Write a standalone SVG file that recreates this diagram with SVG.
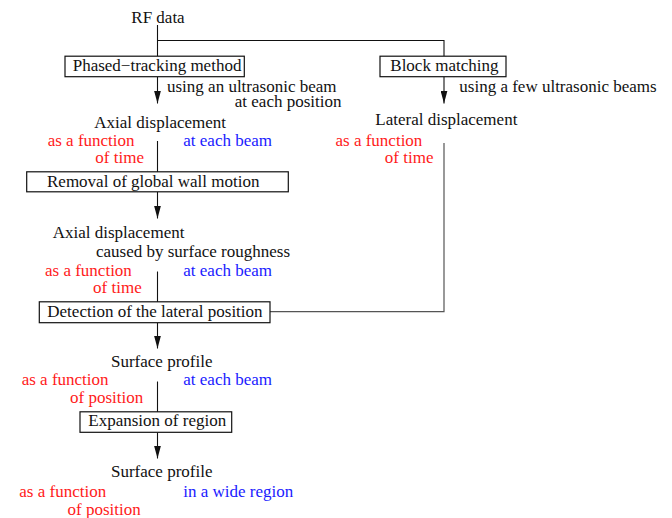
<svg xmlns="http://www.w3.org/2000/svg" width="672" height="518" viewBox="0 0 672 518">
<style>
text{font-family:"Liberation Serif","Times New Roman",serif;font-size:17px;fill:#111}
.r{fill:#ff1a1a}
.b{fill:#1a1aff}
.box{fill:#fff;stroke:#111;stroke-width:1.2}
.ln{fill:none;stroke:#111;stroke-width:1.1}
.gr{fill:none;stroke:#555;stroke-width:1.2}
.m{text-anchor:middle}
.e{text-anchor:end}
</style>
<defs>
<marker id="ah" markerUnits="userSpaceOnUse" markerWidth="13" markerHeight="7" refX="13" refY="3.5" orient="auto" viewBox="0 0 13 7">
<path d="M0,0 L13,3.5 L0,7 z" fill="#111"/>
</marker>
</defs>
<g id="connectors">
<path class="ln" d="M157.5 25 V56"/>
<path class="ln" d="M157.5 40.5 H444 V56"/>
<path class="ln" d="M157.5 77 V103.5" marker-end="url(#ah)"/>
<path class="ln" d="M157.5 141 V172"/>
<path class="ln" d="M157.5 192 V218.5" marker-end="url(#ah)"/>
<path class="ln" d="M157.5 271.5 V302"/>
<path class="ln" d="M157.5 323 V348.5" marker-end="url(#ah)"/>
<path class="ln" d="M157.5 381.5 V412"/>
<path class="ln" d="M157.5 432.5 V458.5" marker-end="url(#ah)"/>
<path class="ln" d="M444 77 V103.5" marker-end="url(#ah)"/>
<path class="gr" d="M444 143 V311.7 H270"/>
</g>
<g id="rf-data"><text class="m" x="158" y="22.5">RF data</text></g>
<g id="phased-tracking">
<rect class="box" x="65" y="56.2" width="179.3" height="20.5"/>
<text x="72.7" y="71">Phased−tracking method</text>
</g>
<g id="phased-label">
<text x="167" y="91.7">using an ultrasonic beam</text>
<text class="e" x="341.5" y="106.5">at each position</text>
</g>
<g id="block-matching">
<rect class="box" x="380" y="56.2" width="126" height="20.5"/>
<text x="390.3" y="71">Block matching</text>
</g>
<g id="block-label"><text x="459.3" y="91.7">using a few ultrasonic beams</text></g>
<g id="axial-displacement">
<text x="94.3" y="128">Axial displacement</text>
<text class="r" x="47.7" y="146">as a function</text>
<text class="r e" x="144" y="162.7">of time</text>
<text class="b" x="183.3" y="146">at each beam</text>
</g>
<g id="lateral-displacement">
<text x="375.3" y="124.5">Lateral displacement</text>
<text class="r" x="335.5" y="146">as a function</text>
<text class="r e" x="433.5" y="162.7">of time</text>
</g>
<g id="removal">
<rect class="box" x="26.7" y="171.8" width="261.6" height="20"/>
<text x="47" y="186.7">Removal of global wall motion</text>
</g>
<g id="axial-roughness">
<text x="52.7" y="237.7">Axial displacement</text>
<text x="96" y="257.3">caused by surface roughness</text>
<text class="r" x="45" y="276">as a function</text>
<text class="r e" x="141.7" y="293.3">of time</text>
<text class="b" x="183.3" y="276">at each beam</text>
</g>
<g id="detection">
<rect class="box" x="39.3" y="301.8" width="230.7" height="20.9"/>
<text x="47.3" y="316.7">Detection of the lateral position</text>
</g>
<g id="surface-profile-1">
<text x="111" y="366.7">Surface profile</text>
<text class="r" x="21.7" y="385">as a function</text>
<text class="r e" x="143.3" y="402.7">of position</text>
<text class="b" x="183.3" y="385">at each beam</text>
</g>
<g id="expansion">
<rect class="box" x="80" y="411.8" width="151.7" height="20.5"/>
<text x="88.3" y="426.3">Expansion of region</text>
</g>
<g id="surface-profile-2">
<text x="111" y="476.7">Surface profile</text>
<text class="r" x="19.3" y="496.7">as a function</text>
<text class="r e" x="140.7" y="515">of position</text>
<text class="b" x="183.3" y="496.7">in a wide region</text>
</g>
</svg>
